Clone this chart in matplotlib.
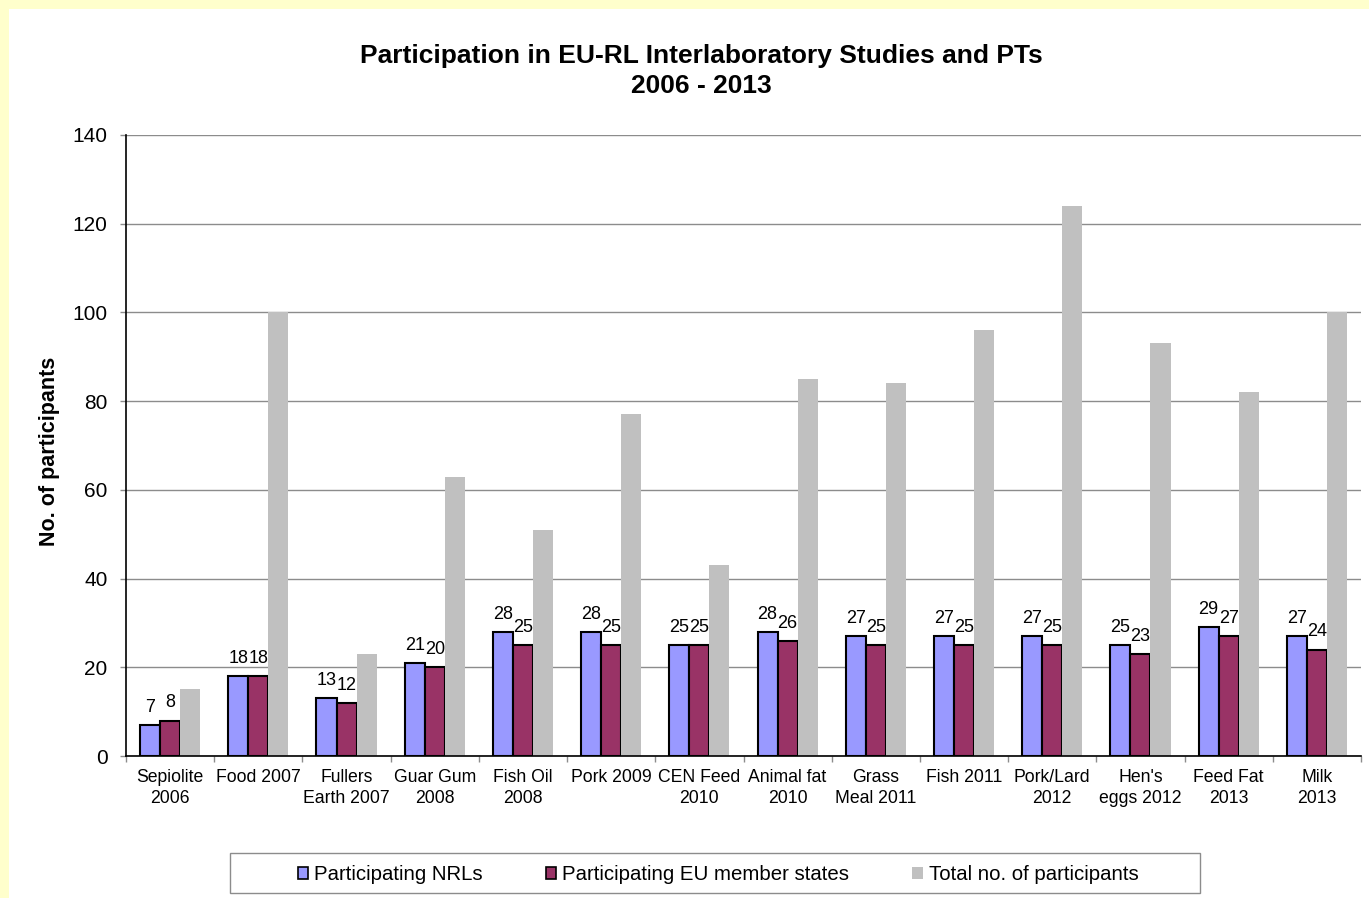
import matplotlib
matplotlib.use("Agg")
import matplotlib.pyplot as plt
from matplotlib.patches import Rectangle, Patch
import numpy as np

plt.rcParams['font.family'] = ['Liberation Sans', 'DejaVu Sans']

categories = ["Sepiolite\n2006", "Food 2007", "Fullers\nEarth 2007", "Guar Gum\n2008",
              "Fish Oil\n2008", "Pork 2009", "CEN Feed\n2010", "Animal fat\n2010",
              "Grass\nMeal 2011", "Fish 2011", "Pork/Lard\n2012", "Hen's\neggs 2012",
              "Feed Fat\n2013", "Milk\n2013"]
nrls = [7, 18, 13, 21, 28, 28, 25, 28, 27, 27, 27, 25, 29, 27]
member_states = [8, 18, 12, 20, 25, 25, 25, 26, 25, 25, 25, 23, 27, 24]
total = [15, 100, 23, 63, 51, 77, 43, 85, 84, 96, 124, 93, 82, 100]

W, H = 1369, 898
fig = plt.figure(figsize=(W / 100, H / 100), dpi=100)
fig.patch.set_facecolor('#FFFFCC')
fig.patches.append(Rectangle((9 / W, 0), 1 - 9 / W, 1 - 9 / H, transform=fig.transFigure,
                             facecolor='white', edgecolor='none', zorder=-10))

ax = fig.add_axes([126 / W, 1 - 756 / H, (1361 - 126) / W, (756 - 135) / H])
ax.set_facecolor('none')

x = np.arange(len(categories))
bw = 0.227
c_blue, c_maroon, c_gray = '#9999FF', '#993366', '#C0C0C0'
ax.bar(x - bw, nrls, bw, color=c_blue, edgecolor='black', linewidth=1.5, zorder=3)
ax.bar(x, member_states, bw, color=c_maroon, edgecolor='black', linewidth=1.5, zorder=3)
ax.bar(x + bw, total, bw, color=c_gray, edgecolor='none', zorder=3)

for xi, v in zip(x - bw, nrls):
    ax.annotate(str(v), (xi, v), xytext=(0, 9.4), textcoords='offset points',
                ha='center', va='baseline', fontsize=13, zorder=4)
for xi, v in zip(x, member_states):
    ax.annotate(str(v), (xi, v), xytext=(0, 9.4), textcoords='offset points',
                ha='center', va='baseline', fontsize=13, zorder=4)

ax.set_xlim(-0.5, len(categories) - 0.5)
ax.set_ylim(0, 140)
ax.set_yticks(np.arange(0, 141, 20))
ax.yaxis.grid(True, color='#8c8c8c', linewidth=1.0, zorder=0)
ax.set_axisbelow(True)
ax.tick_params(axis='y', length=4.3, width=1.0, color='#8c8c8c', pad=9, labelsize=15)

ax.set_xticks(x)
ax.set_xticklabels(categories, fontsize=12.7, linespacing=1.36)
ax.set_xticks(np.arange(-0.5, len(categories), 1), minor=True)
ax.tick_params(axis='x', which='major', length=0, pad=9.2)
ax.tick_params(axis='x', which='minor', length=4.3, width=1.0, color='#8c8c8c')

for s in ('top', 'right'):
    ax.spines[s].set_visible(False)
for s in ('left', 'bottom'):
    ax.spines[s].set_color('black')
    ax.spines[s].set_linewidth(1.2)
    ax.spines[s].set_zorder(5)

fig.text(701 / W, 1 - 56 / H, "Participation in EU-RL Interlaboratory Studies and PTs",
         ha='center', va='center', fontsize=19, fontweight='bold')
fig.text(701 / W, 1 - 86 / H, "2006 - 2013",
         ha='center', va='center', fontsize=19, fontweight='bold')
fig.text(50 / W, 1 - 451 / H, "No. of participants", rotation=90,
         ha='center', va='center', fontsize=15.5, fontweight='bold')

fig.patches.append(Rectangle((230 / W, 1 - 893 / H), 970 / W, 40 / H, transform=fig.transFigure,
                             facecolor='white', edgecolor='#8c8c8c', linewidth=1.0, zorder=1))
handles = [Patch(facecolor=c_blue, edgecolor='black', linewidth=1.2, label='Participating NRLs'),
           Patch(facecolor=c_maroon, edgecolor='black', linewidth=1.2, label='Participating EU member states'),
           Patch(facecolor=c_gray, edgecolor='none', label='Total no. of participants')]
fig.legend(handles=handles, loc='center', bbox_to_anchor=(718 / W, 1 - 875 / H), ncol=3,
           frameon=False, fontsize=14.7, handlelength=0.5, handleheight=0.5,
           handletextpad=0.3, columnspacing=3.1)

fig.savefig('out.png', dpi=100, facecolor=fig.get_facecolor())
